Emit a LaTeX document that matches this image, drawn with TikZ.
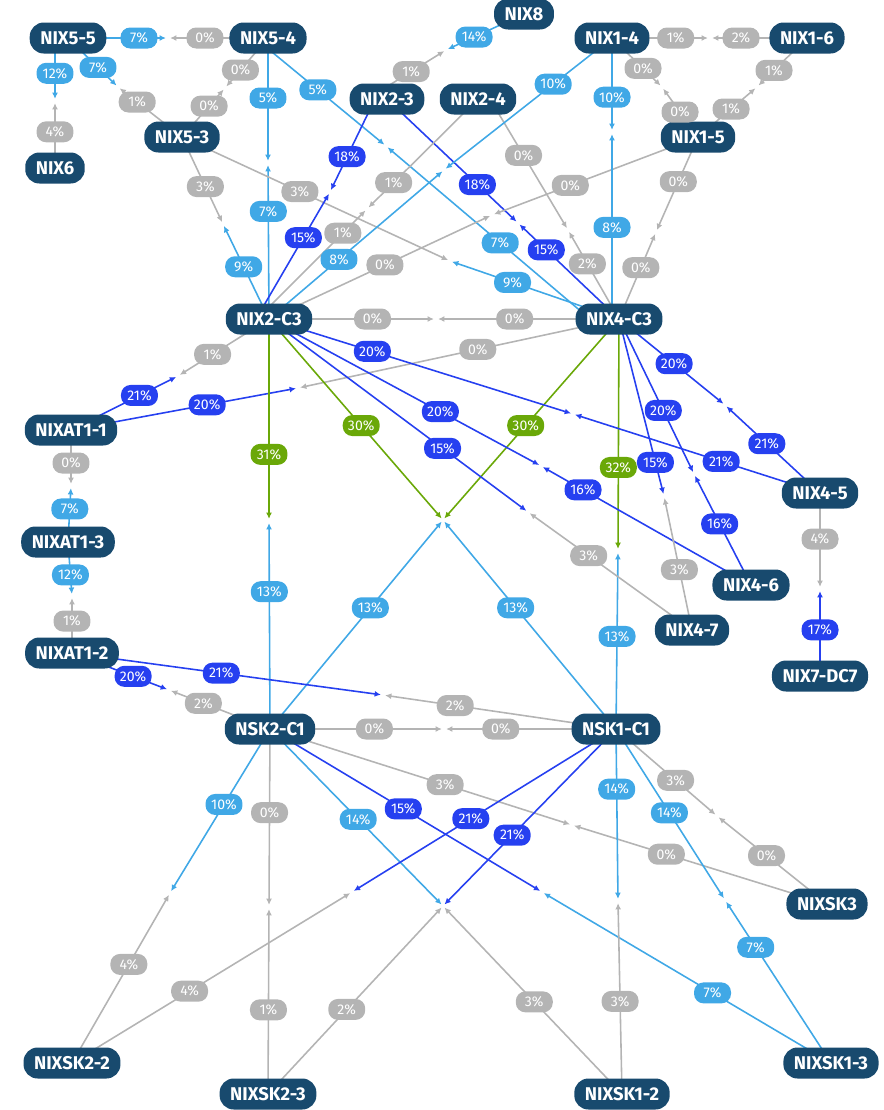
\documentclass[tikz,border=0pt]{standalone}
\usepackage{fontspec}
\setmainfont{Fira Sans}
\usetikzlibrary{arrows.meta,backgrounds,calc}
\definecolor{RouterBlue}{RGB}{24,74,110}
\definecolor{LoadGrey}{RGB}{180,180,180}
\definecolor{LoadCyan}{RGB}{64,168,230}
\definecolor{LoadBlue}{RGB}{38,64,240}
\definecolor{LoadGreen}{RGB}{106,168,8}
\tikzstyle{routerNode}=[fill=RouterBlue, text=white, rounded corners=8pt, minimum height=0.62cm, inner xsep=6pt, inner ysep=0pt, font=\bfseries\fontsize{10.5}{12}\selectfont]
\tikzstyle{bwLabel}=[text=white, rounded corners=5.5pt, minimum width=0.74cm, minimum height=0.42cm, inner sep=0pt, font=\fontsize{8}{9}\selectfont]
\tikzstyle{halfLink}=[-{Latex[length=3.6pt,width=3.4pt]}, line width=0.9pt, shorten >=1.2pt]
\newcount\bwcount
% one half of a link: start, meeting point, colour, label position, load
\newcommand{\bwlink}[5]{%
  \global\advance\bwcount by 1
  \begin{pgfonlayer}{background}
    \draw[halfLink, draw=#3] (#1) -- (#2);
  \end{pgfonlayer}
  \path (#1) -- (#2) node[bwLabel, fill=#3, pos=#4] (bw\the\bwcount) {#5\%};
}

\begin{document}
\begin{tikzpicture}[x=0.02cm, y=-0.02cm]
    \useasboundingbox (0,0) rectangle (884,1110);

    % Top routers
    \node[routerNode] (nix55) at (68, 38) {NIX5-5};
    \node[routerNode] (nix54) at (268, 38) {NIX5-4};
    \node[routerNode] (nix6) at (55, 168) {NIX6};
    \node[routerNode] (nix53) at (182, 137) {NIX5-3};
    \node[routerNode] (nix8) at (524, 14) {NIX8};
    \node[routerNode] (nix23) at (387, 99) {NIX2-3};
    \node[routerNode] (nix24) at (478, 99) {NIX2-4};
    \node[routerNode] (nix14) at (612, 38) {NIX1-4};
    \node[routerNode] (nix16) at (807, 38) {NIX1-6};
    \node[routerNode] (nix15) at (698, 137) {NIX1-5};

    % Core
    \node[routerNode] (nix2c3) at (269, 319) {NIX2-C3};
    \node[routerNode] (nix4c3) at (619, 319) {NIX4-C3};
    \node[routerNode] (nsk2c1) at (270, 729) {NSK2-C1};
    \node[routerNode] (nsk1c1) at (616, 729) {NSK1-C1};

    % Left column
    \node[routerNode] (at11) at (71, 430) {NIXAT1-1};
    \node[routerNode] (at13) at (68, 542) {NIXAT1-3};
    \node[routerNode] (at12) at (72, 653) {NIXAT1-2};

    % Right side
    \node[routerNode] (nix45) at (820, 493) {NIX4-5};
    \node[routerNode] (nix46) at (751, 585) {NIX4-6};
    \node[routerNode] (nix47) at (692, 630) {NIX4-7};
    \node[routerNode] (nix7dc7) at (820, 676) {NIX7-DC7};

    % Bottom routers
    \node[routerNode] (sk3) at (827, 904) {NIXSK3};
    \node[routerNode] (sk22) at (72, 1063) {NIXSK2-2};
    \node[routerNode] (sk23) at (268, 1094) {NIXSK2-3};
    \node[routerNode] (sk12) at (622, 1094) {NIXSK1-2};
    \node[routerNode] (sk13) at (831, 1063) {NIXSK1-3};

    % Meeting points
    \coordinate (m01) at (168, 38);
    \coordinate (m02) at (55, 101);
    \coordinate (m03) at (118, 87);
    \coordinate (m04) at (225, 88);
    \coordinate (m05) at (268, 163);
    \coordinate (m06) at (386, 146);
    \coordinate (m07) at (223, 224);
    \coordinate (m08) at (450, 261);
    \coordinate (m09) at (330, 192);
    \coordinate (m10) at (518, 223);
    \coordinate (m11) at (367, 209);
    \coordinate (m12) at (568, 230);
    \coordinate (m13) at (444, 170);
    \coordinate (m14) at (492, 215);
    \coordinate (m15) at (612, 132);
    \coordinate (m16) at (656, 232);
    \coordinate (m17) at (710, 38);
    \coordinate (m18) at (662, 87);
    \coordinate (m19) at (757, 87);
    \coordinate (m20) at (446, 50);
    \coordinate (m21) at (436, 319);
    \coordinate (m22) at (178, 376);
    \coordinate (m23) at (298, 388);
    \coordinate (m24) at (269, 521);
    \coordinate (mx1) at (443, 520);
    \coordinate (m27) at (618, 551);
    \coordinate (m28) at (573, 414);
    \coordinate (m29) at (541, 466);
    \coordinate (m30) at (528, 512);
    \coordinate (m31) at (725, 405);
    \coordinate (m32) at (694, 474);
    \coordinate (m33) at (664, 496);
    \coordinate (m34) at (820, 589);
    \coordinate (m35) at (71, 486);
    \coordinate (m36) at (72, 596);
    \coordinate (m37) at (383, 695);
    \coordinate (m38) at (169, 690);
    \coordinate (m39) at (444, 729);
    \coordinate (m40) at (170, 893);
    \coordinate (m41) at (269, 907);
    \coordinate (mx2) at (443, 906);
    \coordinate (m43) at (542, 892);
    \coordinate (m44) at (572, 825);
    \coordinate (m45) at (352, 892);
    \coordinate (m47) at (618, 901);
    \coordinate (m48) at (725, 900);
    \coordinate (m49) at (717, 816);

    % Top links
    \bwlink{nix55.center}{m01}{LoadCyan}{0.71}{7}
    \bwlink{nix54.center}{m01}{LoadGrey}{0.63}{0}
    \bwlink{$(nix55.center)+(-13,0)$}{m02}{LoadCyan}{0.56}{12}
    \bwlink{nix6.center}{m02}{LoadGrey}{0.54}{4}
    \bwlink{nix55.center}{m03}{LoadCyan}{0.60}{7}
    \bwlink{nix53.center}{m03}{LoadGrey}{0.70}{1}
    \bwlink{nix54.center}{m04}{LoadGrey}{0.64}{0}
    \bwlink{nix53.center}{m04}{LoadGrey}{0.63}{0}
    \bwlink{nix54.center}{m05}{LoadCyan}{0.48}{5}
    \bwlink{nix2c3.center}{m05}{LoadCyan}{0.69}{7}
    \bwlink{$(nix54.center)+(-13,0)$}{m06}{LoadCyan}{0.48}{5}
    \bwlink{$(nix4c3.center)+(-29,0)$}{m06}{LoadCyan}{0.44}{7}
    \bwlink{nix53.center}{m07}{LoadGrey}{0.57}{3}
    \bwlink{nix2c3.center}{m07}{LoadCyan}{0.55}{9}
    \bwlink{nix53.center}{m08}{LoadGrey}{0.44}{3}
    \bwlink{nix4c3.center}{m08}{LoadCyan}{0.63}{9}
    \bwlink{$(nix23.center)+(-12,0)$}{m09}{LoadBlue}{0.62}{18}
    \bwlink{$(nix2c3.center)+(-13,0)$}{m09}{LoadBlue}{0.64}{15}
    \bwlink{nix23.center}{m10}{LoadBlue}{0.69}{18}
    \bwlink{nix4c3.center}{m10}{LoadBlue}{0.72}{15}
    \bwlink{nix24.center}{m11}{LoadGrey}{0.76}{1}
    \bwlink{$(nix2c3.center)+(-12,0)$}{m11}{LoadGrey}{0.78}{1}
    \bwlink{$(nix24.center)+(12,0)$}{m12}{LoadGrey}{0.43}{0}
    \bwlink{nix4c3.center}{m12}{LoadGrey}{0.62}{2}
    \bwlink{nix14.center}{m13}{LoadCyan}{0.35}{10}
    \bwlink{nix2c3.center}{m13}{LoadCyan}{0.40}{8}
    \bwlink{nix15.center}{m14}{LoadGrey}{0.62}{0}
    \bwlink{nix2c3.center}{m14}{LoadGrey}{0.52}{0}
    \bwlink{nix14.center}{m15}{LoadCyan}{0.63}{10}
    \bwlink{$(nix4c3.center)+(-7,0)$}{m15}{LoadCyan}{0.49}{8}
    \bwlink{nix15.center}{m16}{LoadGrey}{0.47}{0}
    \bwlink{nix4c3.center}{m16}{LoadGrey}{0.59}{0}
    \bwlink{nix14.center}{m17}{LoadGrey}{0.65}{1}
    \bwlink{nix16.center}{m17}{LoadGrey}{0.68}{2}
    \bwlink{nix14.center}{m18}{LoadGrey}{0.62}{0}
    \bwlink{nix15.center}{m18}{LoadGrey}{0.50}{0}
    \bwlink{nix16.center}{m19}{LoadGrey}{0.66}{1}
    \bwlink{nix15.center}{m19}{LoadGrey}{0.56}{1}
    \bwlink{nix8.center}{m20}{LoadCyan}{0.64}{14}
    \bwlink{$(nix23.center)+(-20,0)$}{m20}{LoadGrey}{0.56}{1}

    % Core and left links
    \bwlink{nix2c3.center}{m21}{LoadGrey}{0.62}{0}
    \bwlink{nix4c3.center}{m21}{LoadGrey}{0.57}{0}
    \bwlink{nix2c3.center}{m22}{LoadGrey}{0.62}{1}
    \bwlink{at11.center}{m22}{LoadBlue}{0.64}{21}
    \bwlink{nix4c3.center}{m23}{LoadGrey}{0.44}{0}
    \bwlink{at11.center}{m23}{LoadBlue}{0.60}{20}
    \bwlink{nix2c3.center}{m24}{LoadGreen}{0.67}{31}
    \bwlink{nsk2c1.center}{m24}{LoadCyan}{0.66}{13}
    \bwlink{nix2c3.center}{mx1}{LoadGreen}{0.53}{30}
    \bwlink{nsk1c1.center}{mx1}{LoadCyan}{0.58}{13}
    \bwlink{nix4c3.center}{mx1}{LoadGreen}{0.53}{30}
    \bwlink{nsk2c1.center}{mx1}{LoadCyan}{0.58}{13}
    \bwlink{nix4c3.center}{m27}{LoadGreen}{0.64}{32}
    \bwlink{nsk1c1.center}{m27}{LoadCyan}{0.52}{13}
    \bwlink{at11.center}{m35}{LoadGrey}{0.59}{0}
    \bwlink{at13.center}{m35}{LoadCyan}{0.59}{7}
    \bwlink{at13.center}{m36}{LoadCyan}{0.61}{12}
    \bwlink{at12.center}{m36}{LoadGrey}{0.56}{1}
    \bwlink{at12.center}{m37}{LoadBlue}{0.48}{21}
    \bwlink{nsk1c1.center}{m37}{LoadGrey}{0.69}{2}
    \bwlink{at12.center}{m38}{LoadBlue}{0.63}{20}
    \bwlink{nsk2c1.center}{m38}{LoadGrey}{0.66}{2}

    % Right links
    \bwlink{nix2c3.center}{m28}{LoadBlue}{0.34}{20}
    \bwlink{nix45.center}{m28}{LoadBlue}{0.40}{21}
    \bwlink{nix2c3.center}{m29}{LoadBlue}{0.63}{20}
    \bwlink{nix46.center}{m29}{LoadBlue}{0.80}{16}
    \bwlink{nix2c3.center}{m30}{LoadBlue}{0.67}{15}
    \bwlink{nix47.center}{m30}{LoadGrey}{0.63}{3}
    \bwlink{nix4c3.center}{m31}{LoadBlue}{0.52}{20}
    \bwlink{nix45.center}{m31}{LoadBlue}{0.56}{21}
    \bwlink{nix4c3.center}{m32}{LoadBlue}{0.59}{20}
    \bwlink{nix46.center}{m32}{LoadBlue}{0.55}{16}
    \bwlink{nix4c3.center}{m33}{LoadBlue}{0.81}{15}
    \bwlink{nix47.center}{m33}{LoadGrey}{0.45}{3}
    \bwlink{nix45.center}{m34}{LoadGrey}{0.48}{4}
    \bwlink{nix7dc7.center}{m34}{LoadBlue}{0.53}{17}

    % Bottom links
    \bwlink{nsk2c1.center}{m39}{LoadGrey}{0.60}{0}
    \bwlink{nsk1c1.center}{m39}{LoadGrey}{0.67}{0}
    \bwlink{nsk2c1.center}{m40}{LoadCyan}{0.46}{10}
    \bwlink{sk22.center}{m40}{LoadGrey}{0.58}{4}
    \bwlink{nsk2c1.center}{m41}{LoadGrey}{0.47}{0}
    \bwlink{sk23.center}{m41}{LoadGrey}{0.45}{1}
    \bwlink{nsk2c1.center}{mx2}{LoadCyan}{0.51}{14}
    \bwlink{sk12.center}{mx2}{LoadGrey}{0.49}{3}
    \bwlink{nsk2c1.center}{m43}{LoadBlue}{0.49}{15}
    \bwlink{sk13.center}{m43}{LoadCyan}{0.41}{7}
    \bwlink{nsk2c1.center}{m44}{LoadGrey}{0.58}{3}
    \bwlink{sk3.center}{m44}{LoadGrey}{0.63}{0}
    \bwlink{nsk1c1.center}{m45}{LoadBlue}{0.55}{21}
    \bwlink{sk22.center}{m45}{LoadGrey}{0.42}{4}
    \bwlink{nsk1c1.center}{mx2}{LoadBlue}{0.60}{21}
    \bwlink{sk23.center}{mx2}{LoadGrey}{0.45}{2}
    \bwlink{nsk1c1.center}{m47}{LoadCyan}{0.35}{14}
    \bwlink{sk12.center}{m47}{LoadGrey}{0.48}{3}
    \bwlink{nsk1c1.center}{m48}{LoadCyan}{0.49}{14}
    \bwlink{sk13.center}{m48}{LoadCyan}{0.71}{7}
    \bwlink{nsk1c1.center}{m49}{LoadGrey}{0.59}{3}
    \bwlink{sk3.center}{m49}{LoadGrey}{0.55}{0}
\end{tikzpicture}
\end{document}
